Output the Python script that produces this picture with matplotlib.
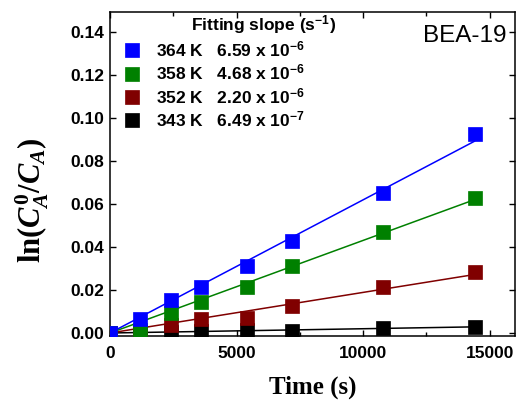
"""
First-order decay of C_A on BEA-19 at four temperatures: ln(C0_A/C_A) vs time,
with a zero-intercept linear fit for each temperature.
"""

import numpy as np
import matplotlib
matplotlib.use("Agg")
import matplotlib.pyplot as plt
from matplotlib import font_manager

# sampling times (s)
time_s = [0, 1200, 2400, 3600, 5400, 7200, 10800, 14400]

# ln(C0_A / C_A) at each temperature
ln_364 = [0.0, 0.0065, 0.0155, 0.0215, 0.0310, 0.0430, 0.0650, 0.0925]
ln_358 = [0.0, 0.0015, 0.0095, 0.0145, 0.0215, 0.0310, 0.0470, 0.0630]
ln_352 = [0.0, 0.0005, 0.0035, 0.0065, 0.0070, 0.0125, 0.0215, 0.0285]
ln_343 = [0.0, 0.0000, 0.0003, 0.0010, 0.0014, 0.0010, 0.0023, 0.0028]

temps = ["343 K", "352 K", "358 K", "364 K"]
slopes = ["6.49 x 10$^{-7}$", "2.20 x 10$^{-6}$", "4.68 x 10$^{-6}$", "6.59 x 10$^{-6}$"]
colors = ["black", "#800000", "#008000", "#0000ff"]
series = [ln_343, ln_352, ln_358, ln_364]

names = {f.name for f in font_manager.fontManager.ttflist}
SANS = "Liberation Sans"
NARROW = "Liberation Sans Narrow" if "Liberation Sans Narrow" in names else SANS
SERIF = "Liberation Serif"

plt.rcParams["mathtext.fontset"] = "custom"
plt.rcParams["mathtext.default"] = "regular"
plt.rcParams["mathtext.it"] = SERIF + ":italic:bold"
plt.rcParams["mathtext.rm"] = SERIF + ":bold"

fig = plt.figure(figsize=(5.21, 4.04), dpi=100)
ax = fig.add_axes([0.2111, 0.1683, 0.7774, 0.8020])

x = np.array(time_s, dtype=float)
handles = []
for ys, c in zip(series, colors):
    y = np.array(ys)
    k = np.sum(x * y) / np.sum(x * x)
    xf = np.array([0.0, x[-1]])
    ax.plot(xf, k * xf, color=c, lw=1.1, zorder=2)
    h, = ax.plot(x, y, ls="none", marker="s", ms=10.5, color=c, mec=c, mew=0.5, zorder=3)
    handles.append(h)

ax.set_xlim(0, 16000)
ax.set_ylim(-0.0014, 0.1493)
ax.set_xticks([0, 5000, 10000, 15000])
ax.set_xticks(np.arange(2500, 16000, 5000), minor=True)
ax.set_yticks(np.arange(0, 0.141, 0.02))
ax.set_yticklabels([f"{v:.2f}" for v in np.arange(0, 0.141, 0.02)])
ax.tick_params(which="both", direction="in", top=True, right=True, width=1.0)
ax.tick_params(which="major", length=4, pad=4)
ax.tick_params(axis="x", which="major", pad=7)
ax.tick_params(which="minor", length=3)
for lab in ax.get_xticklabels() + ax.get_yticklabels():
    lab.set_fontfamily(SANS)
    lab.set_fontweight("bold")
    lab.set_fontsize(12.5)
for sp in ax.spines.values():
    sp.set_linewidth(1.1)

ax.set_xlabel("Time (s)", fontfamily=SERIF, fontweight="bold", fontsize=18, labelpad=11)
ax.set_ylabel(r"ln($\mathit{C}_{\mathit{A}}^{\mathit{0}}$/$\mathit{C}_{\mathit{A}}$)",
              fontfamily=SERIF, fontweight="bold", fontsize=22)
ax.yaxis.set_label_coords(-0.145, 0.42)

ax.text(0.980, 0.907, "BEA-19", transform=ax.transAxes, ha="right", va="baseline",
        fontfamily=SANS, fontsize=17.5)

labels = [f"{t}   {s}" for t, s in zip(temps, slopes)]
leg = ax.legend(handles[::-1], labels[::-1], loc="upper left",
                bbox_to_anchor=(0.033, 0.915), frameon=False, borderpad=0,
                borderaxespad=0, handlelength=1.0, handletextpad=0.9,
                labelspacing=0.2, prop={"family": NARROW, "weight": "bold", "size": 12.5})
ax.text(0.378, 0.96, "Fitting slope (s$^{-1}$)", transform=ax.transAxes,
        ha="center", va="center", fontfamily=NARROW, fontweight="bold", fontsize=12.5)

fig.savefig("out.png", dpi=100)
